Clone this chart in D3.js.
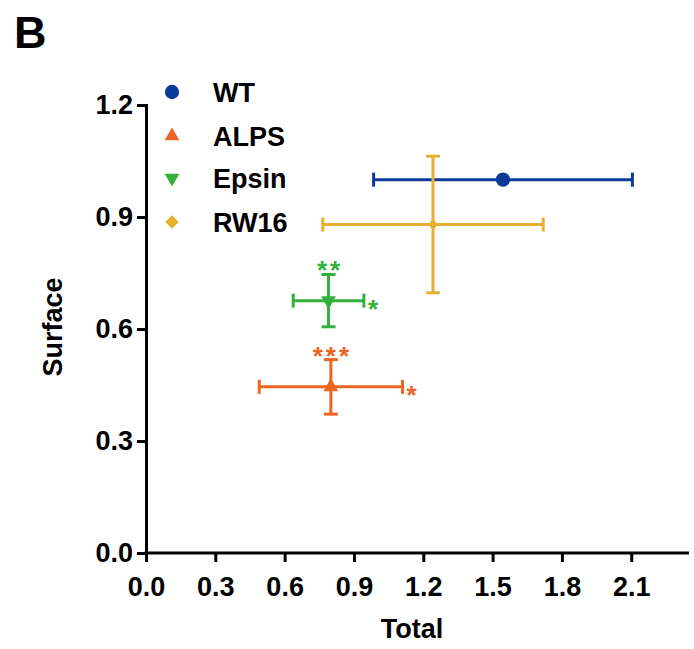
<!DOCTYPE html>
<html><head><meta charset="utf-8">
<script src="https://cdn.jsdelivr.net/npm/d3@7"></script>
<style>body{margin:0;background:#fff}text{font-family:"Liberation Sans",Arial,sans-serif;font-weight:bold}</style>
</head><body><svg id="c" width="694" height="649"></svg>
<script>
const groups = ["WT","ALPS","Epsin","RW16"];
const colors = ["#0a3a9a","#ee6522","#33b03a","#e8b030"];
const symbols = ["circle","triangleUp","triangleDown","diamond"];
const totalMean = [1.545, 0.80, 0.79, 1.242];
const totalErr = [0.56, 0.31, 0.153, 0.477];
const surfaceMean = [1.0, 0.445, 0.676, 0.88];
const surfaceErr = [0, 0.073, 0.07, 0.183];
const sigTop = ["", "***", "**", ""];
const sigRight = ["", "*", "*", ""];
const xTicks = [0,0.3,0.6,0.9,1.2,1.5,1.8,2.1];
const yTicks = [0,0.3,0.6,0.9,1.2];

const svg = d3.select("#c");
const x = d3.scaleLinear().domain([0,2.35]).range([146,689]);
const y = d3.scaleLinear().domain([0,1.2]).range([553,105]);

svg.append("text").attr("x",14).attr("y",48).attr("font-size",45).text("B");

const xa = svg.append("g").attr("transform","translate(0,553)")
  .call(d3.axisBottom(x).tickValues(xTicks).tickFormat(d3.format(".1f")).tickSizeOuter(0).tickSize(9).tickPadding(15));
const ya = svg.append("g").attr("transform","translate(146,0)")
  .call(d3.axisLeft(y).tickValues(yTicks).tickFormat(d3.format(".1f")).tickSizeOuter(0).tickSize(9).tickPadding(4));
[xa,ya].forEach(a=>{
  a.selectAll("path,line").attr("stroke","#000").attr("stroke-width",3);
  a.selectAll("text").attr("font-size",27).attr("fill","#000").attr("font-family","'Liberation Sans',Arial,sans-serif").attr("font-weight","bold");
});
xa.select(".domain").attr("d","M144.5,0H689");

svg.append("text").attr("x",412).attr("y",638).attr("text-anchor","middle").attr("font-size",27).text("Total");
svg.append("text").attr("transform","translate(62,327) rotate(-90)").attr("text-anchor","middle").attr("font-size",27).text("Surface");

function sym(g,s,c,cx,cy,scale){
  let p, rot = "";
  if(s==="circle") p = d3.symbol().type(d3.symbolCircle).size(160*scale)();
  else if(s==="diamond"){ p = d3.symbol().type(d3.symbolSquare).size(90*scale)(); rot=" rotate(45)"; }
  else { p = d3.symbol().type(d3.symbolTriangle).size(95*scale)(); if(s==="triangleDown") rot=" rotate(180)"; }
  g.append("path").attr("d",p).attr("transform",`translate(${cx},${cy})${rot}`).attr("fill",c);
}

const cap = 7;
groups.forEach((gname,i)=>{
  const g = svg.append("g");
  const c = colors[i];
  const cx = x(totalMean[i]), cy = y(surfaceMean[i]);
  const x0 = x(totalMean[i]-totalErr[i]), x1 = x(totalMean[i]+totalErr[i]);
  const yTop = y(surfaceMean[i]+surfaceErr[i]), yBot = y(surfaceMean[i]-surfaceErr[i]);
  const line=(a,b,cc,d)=>g.append("line").attr("x1",a).attr("y1",b).attr("x2",cc).attr("y2",d).attr("stroke",c).attr("stroke-width",3);
  line(x0,cy,x1,cy); line(x0,cy-cap,x0,cy+cap); line(x1,cy-cap,x1,cy+cap);
  if(surfaceErr[i]>0){ line(cx,yTop,cx,yBot); line(cx-cap,yTop,cx+cap,yTop); line(cx-cap,yBot,cx+cap,yBot); }
  sym(g,symbols[i],c,cx,cy, symbols[i]==="diamond"?0.6:1);
  if(sigTop[i]) g.append("text").attr("x",cx+1.5).attr("y",yTop+5).attr("text-anchor","middle").attr("font-size",26).attr("letter-spacing",3).attr("fill",c).text(sigTop[i]);
  if(sigRight[i]) g.append("text").attr("x",x1+4).attr("y",cy+17).attr("font-size",26).attr("fill",c).text(sigRight[i]);
});

const leg = svg.append("g");
const legY = [92,136,178,222];
groups.forEach((gname,i)=>{
  const ly = legY[i];
  sym(leg,symbols[i],colors[i],172,ly,1);
  leg.append("text").attr("x",213).attr("y",ly+10).attr("font-size",27).attr("fill","#000").text(gname);
});
</script></body></html>
